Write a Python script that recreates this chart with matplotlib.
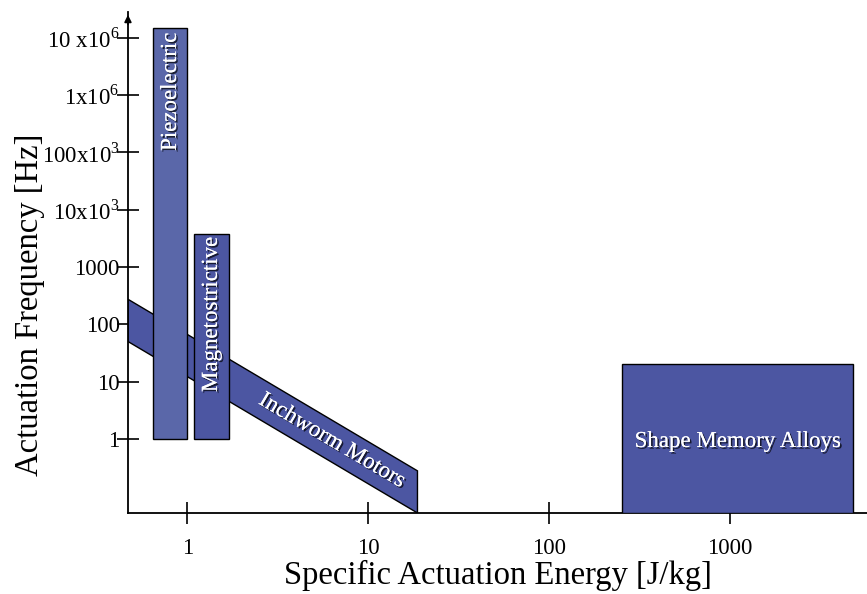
import matplotlib.pyplot as plt
import matplotlib.patheffects as pe
from matplotlib.patches import Polygon

plt.rcParams['font.family'] = ['Liberation Serif', 'DejaVu Serif']
plt.rcParams['mathtext.fontset'] = 'custom'
plt.rcParams['mathtext.rm'] = 'Liberation Serif'

# rectangular regions: energy range [J/kg], frequency range [Hz]
bar_names = ['Piezoelectric', 'Magnetostrictive', 'Shape Memory Alloys']
bar_e0 = [0.65, 1.09, 253]
bar_e1 = [1.0, 1.69, 4790]
bar_f0 = [1.0, 1.0, 0.051]
bar_f1 = [1.5e7, 3800, 20.6]

# inchworm motors band (energy, frequency corners)
inch_e = [0.47, 18.7, 18.7, 0.47]
inch_f = [273, 0.277, 0.051, 50]

yticks = [1, 10, 100, 1000, 1e4, 1e5, 1e6, 1e7]
ylabels = ['1', '10', '100', '1000', r'10x10$^\mathrm{3}$', r'100x10$^\mathrm{3}$',
           r'1x10$^\mathrm{6}$', r'10 x10$^\mathrm{6}$']
xticks = [1, 10, 100, 1000]
xlabels = ['1', '10', '100', '1000']

blue = '#4c56a2'
blue_light = '#5a67a9'

fig = plt.figure(figsize=(8.67, 5.94), dpi=100)
ax = fig.add_axes([0.1476, 0.1364, 0.8524, 0.8434])
ax.set_xscale('log')
ax.set_yscale('log')
ax.set_xlim(0.47, 5700)
ax.set_ylim(0.051, 2.8e7)

# inchworm band first, bars drawn over it
ax.add_patch(Polygon(list(zip(inch_e, inch_f)), closed=True, facecolor=blue,
                     edgecolor='black', lw=1, zorder=2))

for i, name in enumerate(bar_names):
    fc = blue_light if name == 'Piezoelectric' else blue
    ax.fill([bar_e0[i], bar_e1[i], bar_e1[i], bar_e0[i]],
            [bar_f0[i], bar_f0[i], bar_f1[i], bar_f1[i]],
            facecolor=fc, edgecolor='black', lw=1, zorder=3)

shadow = [pe.withSimplePatchShadow(offset=(1.2, -1.2), shadow_rgbFace='black', alpha=0.7),
          pe.Normal()]
tkw = dict(color='white', fontsize=16.5, path_effects=shadow, zorder=5)

ax.text((bar_e0[0] * bar_e1[0]) ** 0.5, 1.2e7, bar_names[0], rotation=90,
        ha='center', va='top', **tkw)
ax.text((bar_e0[1] * bar_e1[1]) ** 0.5, 3300, bar_names[1], rotation=90,
        ha='center', va='top', **tkw)
ax.text((bar_e0[2] * bar_e1[2]) ** 0.5, 0.9, bar_names[2],
        ha='center', va='center', **tkw)
ax.text(6.3, 0.93, 'Inchworm Motors', rotation=-30.6, rotation_mode='anchor',
        ha='center', va='center', **tkw)

ax.set_xticks(xticks)
ax.set_xticklabels(xlabels)
ax.set_yticks(yticks)
ax.set_yticklabels(ylabels)
ax.minorticks_off()
ax.tick_params(axis='both', direction='inout', length=16, width=1.2, labelsize=16.5)
ax.tick_params(axis='x', pad=10)
ax.tick_params(axis='y', pad=-2)

for s in ['top', 'right']:
    ax.spines[s].set_visible(False)
for s in ['left', 'bottom']:
    ax.spines[s].set_linewidth(1.3)

ax.annotate('', xy=(0, 1.0), xytext=(0, 0.97), xycoords='axes fraction',
            arrowprops=dict(arrowstyle='-|>', color='black', lw=1.3,
                            mutation_scale=10), annotation_clip=False)

ax.set_xlabel('Specific Actuation Energy [J/kg]', fontsize=23.5, labelpad=1)
ax.set_ylabel('Actuation Frequency [Hz]', fontsize=23.5)
ax.yaxis.set_label_coords(-0.112, 0.415)

fig.savefig('out.png', dpi=100)
